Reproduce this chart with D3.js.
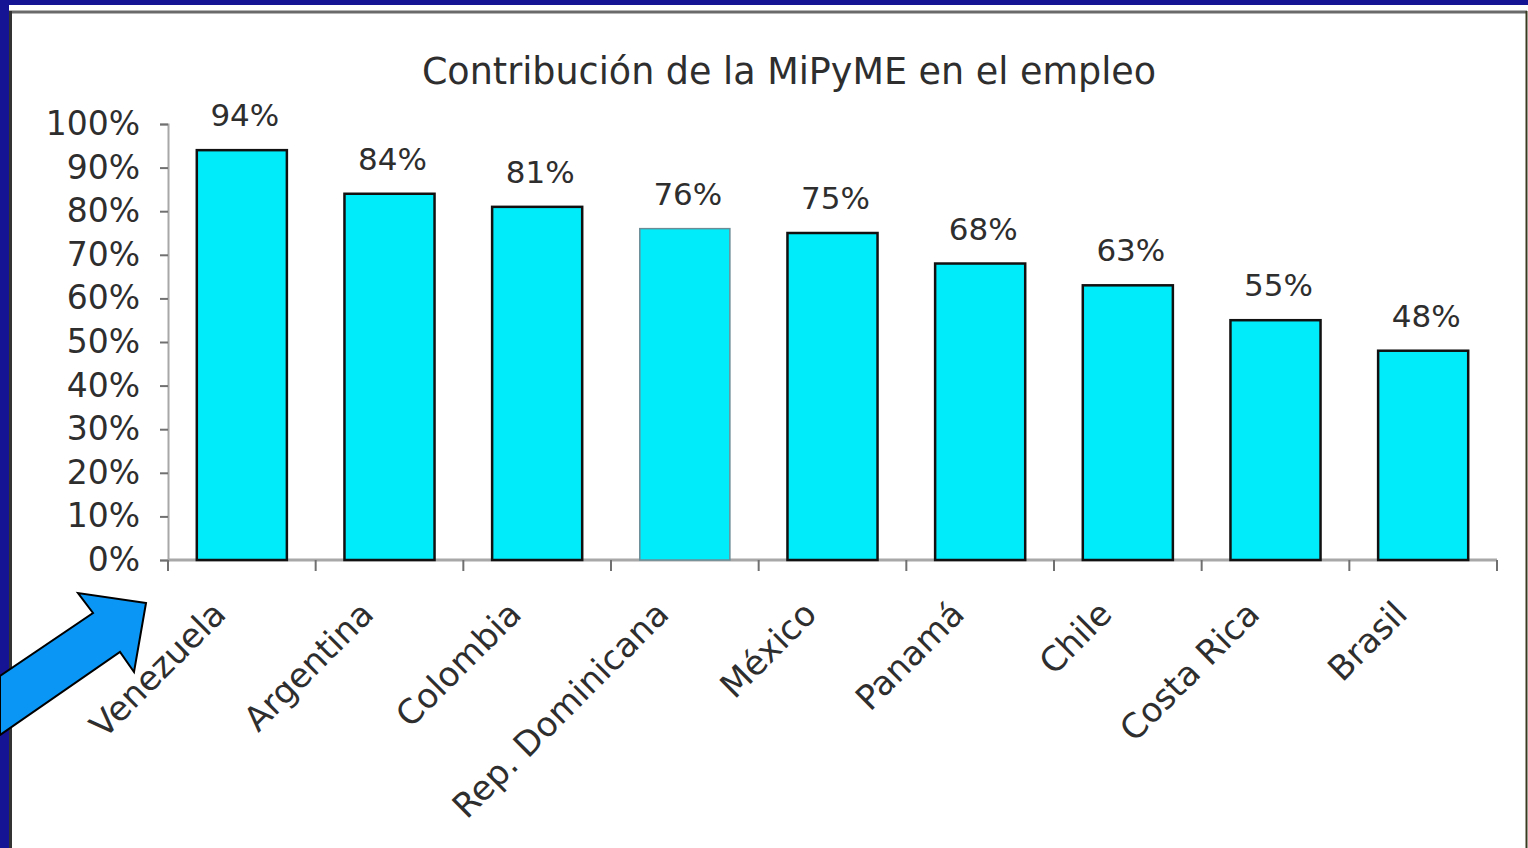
<!DOCTYPE html>
<html>
<head>
<meta charset="utf-8">
<script src="https://cdn.jsdelivr.net/npm/d3@7"></script>
<style>
  html, body { margin: 0; padding: 0; background: #141494; overflow: hidden; }
  svg { display: block; }
  text { font-family: "DejaVu Sans", sans-serif; fill: #2e2e2e; }
</style>
</head>
<body>
<div id="holder"></div>
<script>
// data
const countries = ["Venezuela", "Argentina", "Colombia", "Rep. Dominicana", "México", "Panamá", "Chile", "Costa Rica", "Brasil"];
const shares = [0.94, 0.84, 0.81, 0.76, 0.75, 0.68, 0.63, 0.55, 0.48];
const yTicks = [0, 0.1, 0.2, 0.3, 0.4, 0.5, 0.6, 0.7, 0.8, 0.9, 1];
const title = "Contribución de la MiPyME en el empleo";

const w = 1528;
const h = 848;

let svg = d3.select("#holder")
    .append("svg")
    .attr("width", w)
    .attr("height", h);

// slide frame
svg.append("rect")
    .attr("x", 0).attr("y", 0)
    .attr("width", w).attr("height", h)
    .attr("fill", "#141494");
svg.append("rect")
    .attr("x", 9).attr("y", 5)
    .attr("width", w - 9).attr("height", h - 5)
    .attr("fill", "#ffffff");
svg.append("line")
    .attr("x1", 9).attr("x2", 1527)
    .attr("y1", 12).attr("y2", 12)
    .attr("stroke", "#6a6a6a").attr("stroke-width", 3);
svg.append("line")
    .attr("x1", 10.5).attr("x2", 10.5)
    .attr("y1", 11).attr("y2", h)
    .attr("stroke", "#333").attr("stroke-width", 3);
svg.append("line")
    .attr("x1", 1526.5).attr("x2", 1526.5)
    .attr("y1", 11).attr("y2", h)
    .attr("stroke", "#3a3a20").attr("stroke-width", 2);

// scales
let xScale = d3.scaleBand()
    .domain(countries)
    .range([168, 1497])
    .paddingInner(0.39)
    .paddingOuter(0.195);

let yScale = d3.scaleLinear()
    .domain([0, 1])
    .range([560, 124]);

// title
svg.append("text")
    .attr("x", 789)
    .attr("y", 84)
    .attr("text-anchor", "middle")
    .style("font-size", "36.5px")
    .text(title);

// y axis
const yAxis = d3.axisLeft(yScale)
    .tickValues(yTicks)
    .tickFormat(d3.format(".0%"))
    .tickSize(8)
    .tickPadding(20);
let gy = svg.append("g")
    .attr("transform", "translate(168,0)")
    .call(yAxis);
gy.select(".domain").attr("stroke", "#a8a8a8").attr("stroke-width", 2);
gy.selectAll(".tick line").attr("stroke", "#707070").attr("stroke-width", 2);
gy.selectAll(".tick text")
    .style("font-size", "33px")
    .style("font-family", "DejaVu Sans, sans-serif")
    .attr("fill", "#2e2e2e");

// x axis line and ticks between categories
svg.append("line")
    .attr("x1", xScale.range()[0]).attr("x2", xScale.range()[1])
    .attr("y1", yScale(0)).attr("y2", yScale(0))
    .attr("stroke", "#a8a8a8").attr("stroke-width", 3);

let bounds = countries.map(c => xScale(c) + xScale.bandwidth() / 2 - xScale.step() / 2);
bounds.push(xScale.range()[1]);
svg.selectAll("line.xtick")
    .data(bounds)
    .enter()
    .append("line")
    .attr("class", "xtick")
    .attr("x1", d => d).attr("x2", d => d)
    .attr("y1", yScale(0)).attr("y2", yScale(0) + 11)
    .attr("stroke", "#707070").attr("stroke-width", 2);

// bars
svg.selectAll("rect.bar")
    .data(countries)
    .enter()
    .append("rect")
    .attr("class", "bar")
    .attr("x", d => xScale(d))
    .attr("y", (d, i) => yScale(shares[i]))
    .attr("width", xScale.bandwidth())
    .attr("height", (d, i) => yScale(0) - yScale(shares[i]))
    .attr("fill", "#00ecfb")
    .attr("stroke", d => d == "Rep. Dominicana" ? "#6a8c96" : "#111")
    .attr("stroke-width", d => d == "Rep. Dominicana" ? 1.5 : 2.5);

// value labels
svg.selectAll("text.val")
    .data(countries)
    .enter()
    .append("text")
    .attr("class", "val")
    .attr("x", d => xScale(d) + xScale.bandwidth() / 2 + 3)
    .attr("y", (d, i) => yScale(shares[i]) - 24)
    .attr("text-anchor", "middle")
    .style("font-size", "31px")
    .text((d, i) => d3.format(".0%")(shares[i]));

// category labels, rotated
svg.selectAll("text.cat")
    .data(countries)
    .enter()
    .append("text")
    .attr("class", "cat")
    .attr("text-anchor", "end")
    .attr("transform", d => "translate(" + (xScale(d) + xScale.bandwidth() / 2 - 14) + ",616) rotate(-45)")
    .style("font-size", "34px")
    .text(d => d);

// blue arrow pointing at Venezuela
svg.append("path")
    .attr("d", "M146,603 L78,593 L93,613 L0,676 L0,735 L120,652 L134,672 Z")
    .attr("fill", "#0a96f5")
    .attr("stroke", "#000")
    .attr("stroke-width", 2)
    .attr("stroke-linejoin", "miter");
</script>
</body>
</html>
